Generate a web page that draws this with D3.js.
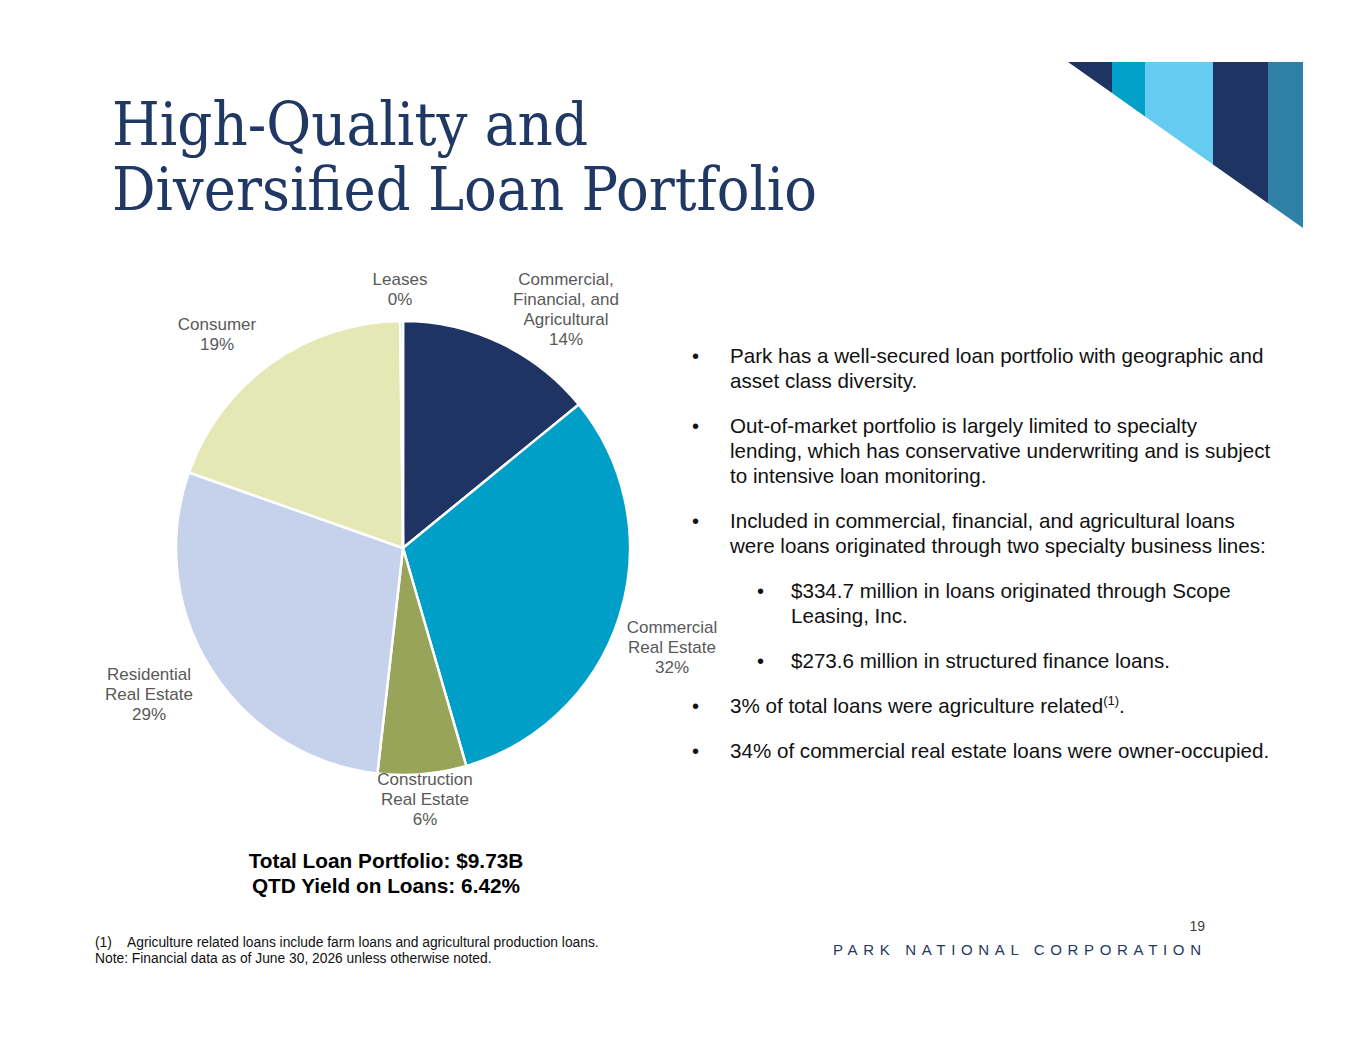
<!DOCTYPE html>
<html>
<head>
<meta charset="utf-8">
<script src="https://cdn.jsdelivr.net/npm/d3@7"></script>
<style>
  body { margin: 0; background: #fff; }
  svg { display: block; }
</style>
</head>
<body>
<div id="slide"></div>
<script>
// Loan mix (share of total loans, %), clockwise from 12 o'clock
const categories = [
    "Commercial, Financial, and Agricultural",
    "Commercial Real Estate",
    "Construction Real Estate",
    "Residential Real Estate",
    "Consumer",
    "Leases"
];
const shares = [14.1, 31.4, 6.3, 28.6, 19.4, 0.2];
const pctLabels = ["14%", "32%", "6%", "29%", "19%", "0%"];
const labelLines = [
    ["Commercial,", "Financial, and", "Agricultural"],
    ["Commercial", "Real Estate"],
    ["Construction", "Real Estate"],
    ["Residential", "Real Estate"],
    ["Consumer"],
    ["Leases"]
];

const titleLines = ["High-Quality and", "Diversified Loan Portfolio"];
const summaryLines = ["Total Loan Portfolio: $9.73B", "QTD Yield on Loans: 6.42%"];

// bullets: level, lines
const bullets = [
    { level: 0, lines: ["Park has a well-secured loan portfolio with geographic and", "asset class diversity."] },
    { level: 0, lines: ["Out-of-market portfolio is largely limited to specialty", "lending, which has conservative underwriting and is subject", "to intensive loan monitoring."] },
    { level: 0, lines: ["Included in commercial, financial, and agricultural loans", "were loans originated through two specialty business lines:"] },
    { level: 1, lines: ["$334.7 million in loans originated through Scope", "Leasing, Inc."] },
    { level: 1, lines: ["$273.6 million in structured finance loans."] },
    { level: 0, lines: ["3% of total loans were agriculture related"], sup: "(1)", after: "." },
    { level: 0, lines: ["34% of commercial real estate loans were owner-occupied."] }
];

const footnotes = [
    ["(1)", "Agriculture related loans include farm loans and agricultural production loans."],
    ["", "Note: Financial data as of June 30, 2026 unless otherwise noted."]
];

const stripeColors = ["#1f3462", "#00a0c8", "#66cbf0", "#1f3462", "#2f80a6"];
const stripeEdges = [1068, 1112, 1145, 1213, 1268, 1303];

const colors = ["#1f3462", "#009fc7", "#97a45a", "#c6d1ec", "#e4e8b4", "#5ec4ea"];

// label anchor (x of centre, baseline of first line) per slice
const labelPos = [
    [566, 285], [672, 633], [425, 785], [149, 680], [217, 330], [400, 285]
];

const width = 1365;
const height = 1055;
const sans = "'Liberation Sans', Arial, sans-serif";

const svg = d3.select("#slide")
    .append("svg")
    .attr("width", width)
    .attr("height", height);

svg.append("rect").attr("width", width).attr("height", height).attr("fill", "#fff");

// Decorative stripes top right, cut by a diagonal
const yTop = 62, yBot = 228;
const slope = (yBot - yTop) / (stripeEdges[5] - stripeEdges[0]);
const diagY = x => yTop + (x - stripeEdges[0]) * slope;
stripeColors.forEach((c, i) => {
    const x0 = stripeEdges[i], x1 = stripeEdges[i + 1];
    svg.append("path")
        .attr("d", `M${x0},${yTop}L${x1},${yTop}L${x1},${diagY(x1)}L${x0},${diagY(x0)}Z`)
        .attr("fill", c);
});

// Title
const titleWidths = [476, 705];
titleLines.forEach((t, i) => {
    svg.append("text")
        .attr("x", 112)
        .attr("y", 145 + i * 65)
        .attr("font-family", "'DejaVu Serif', Georgia, serif")
        .attr("font-size", 60)
        .attr("fill", "#1f3864")
        .attr("textLength", titleWidths[i])
        .attr("lengthAdjust", "spacingAndGlyphs")
        .text(t);
});

// Pie
const cx = 403, cy = 548, radius = 227;
const pie = d3.pie().sort(null).value(d => d);
const arc = d3.arc().innerRadius(0).outerRadius(radius);

const pieG = svg.append("g").attr("transform", `translate(${cx},${cy})`);
pieG.selectAll("path")
    .data(pie(shares))
    .join("path")
    .attr("d", arc)
    .attr("fill", (d, i) => colors[i])
    .attr("stroke", "#fff")
    .attr("stroke-width", 2.5)
    .attr("stroke-linejoin", "round");

// Slice labels
categories.forEach((c, i) => {
    const lines = labelLines[i].concat([pctLabels[i]]);
    const t = svg.append("text")
        .attr("font-family", sans)
        .attr("font-size", 17)
        .attr("fill", "#595959")
        .attr("text-anchor", "middle");
    lines.forEach((l, j) => {
        t.append("tspan")
            .attr("x", labelPos[i][0])
            .attr("y", labelPos[i][1] + j * 20)
            .text(l);
    });
});

// Summary under pie
summaryLines.forEach((s, i) => {
    svg.append("text")
        .attr("x", 386)
        .attr("y", 868 + i * 25)
        .attr("text-anchor", "middle")
        .attr("font-family", sans)
        .attr("font-weight", "bold")
        .attr("font-size", 20.8)
        .attr("fill", "#000")
        .text(s);
});

// Bullets
const lineH = 25;
const gap = 20;
let by = 363;
bullets.forEach(b => {
    const bx = b.level === 0 ? 692 : 757;
    const tx = b.level === 0 ? 730 : 791;
    svg.append("text")
        .attr("x", bx)
        .attr("y", by)
        .attr("font-family", sans)
        .attr("font-size", 20)
        .attr("fill", "#111")
        .text("•");
    b.lines.forEach((l, j) => {
        const t = svg.append("text")
            .attr("x", tx)
            .attr("y", by + j * lineH)
            .attr("font-family", sans)
            .attr("font-size", 20.6)
            .attr("fill", "#111")
            .text(l);
        if (b.sup && j === b.lines.length - 1) {
            t.append("tspan")
                .attr("font-size", 13)
                .attr("dy", -8)
                .text(b.sup);
            t.append("tspan")
                .attr("dy", 8)
                .text(b.after);
        }
    });
    by += b.lines.length * lineH + gap;
});

// Footnotes
footnotes.forEach((f, i) => {
    const y = 947 + i * 16;
    if (f[0]) {
        svg.append("text")
            .attr("x", 95).attr("y", y)
            .attr("font-family", sans).attr("font-size", 13.8)
            .attr("fill", "#111")
            .text(f[0]);
        svg.append("text")
            .attr("x", 127).attr("y", y)
            .attr("font-family", sans).attr("font-size", 13.8)
            .attr("fill", "#111")
            .text(f[1]);
    } else {
        svg.append("text")
            .attr("x", 95).attr("y", y)
            .attr("font-family", sans).attr("font-size", 13.8)
            .attr("fill", "#111")
            .text(f[1]);
    }
});

// Page number and company footer
svg.append("text")
    .attr("x", 1205).attr("y", 931)
    .attr("text-anchor", "end")
    .attr("font-family", sans).attr("font-size", 14)
    .attr("fill", "#404040")
    .text("19");

svg.append("text")
    .attr("x", 833).attr("y", 955)
    .attr("font-family", sans).attr("font-size", 15)
    .attr("fill", "#1f3864")
    .attr("textLength", 368)
    .attr("lengthAdjust", "spacing")
    .text("PARK NATIONAL CORPORATION");
</script>
</body>
</html>
